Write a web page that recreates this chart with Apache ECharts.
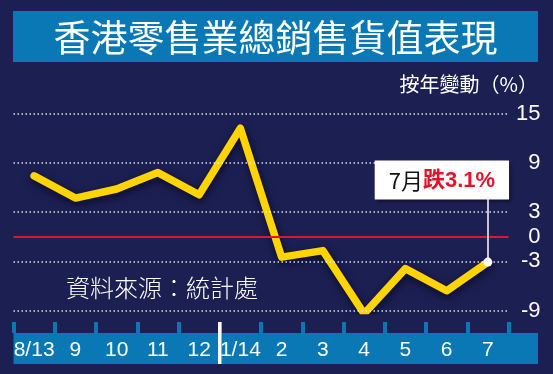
<!DOCTYPE html>
<html>
<head>
<meta charset="utf-8">
<script src="https://cdn.jsdelivr.net/npm/echarts@6/dist/echarts.min.js"></script>
<style>
html,body{margin:0;padding:0;background:#1c1f52;}
#chart{width:553px;height:374px;}
</style>
</head>
<body>
<div id="chart"></div>
<script>
// ---- data ----
const categories = ['8/13', '9', '10', '11', '12', '1/14', '2', '3', '4', '5', '6', '7'];
const retailYoY = [7.4, 4.7, 5.8, 7.8, 5.1, 13.2, -2.5, -1.7, -9.4, -3.9, -6.6, -3.1];
const yTickLabels = [15, 9, 3, 0, -3, -9];
const gridLineValues = [15, 9, 3, -3, -9];
const zeroLineValue = 0;
const titleText = '香港零售業總銷售貨值表現';
const unitText = '按年變動（%）';
const sourceText = '資料來源：統計處';
const noteMonth = '7月';
const noteChange = '跌3.1%';
const noteTopValue = 4.6;   // where the annotation connector ends (box bottom)
const yearBreakAfter = 4;   // separator between '12' and '1/14'

// ---- colours / fonts ----
const BG = '#1c1f52';
const BLUE = '#0a78b4';
const YELLOW = '#ffd400';
const RED = '#e3132b';
const NARROW = '"Liberation Sans Narrow","Liberation Sans",sans-serif';
const CJK = '"Noto Sans CJK TC","Noto Sans CJK SC",sans-serif';

const chart = echarts.init(document.getElementById('chart'), null, {renderer: 'canvas'});
const lastIdx = retailYoY.length - 1;

const lineData = retailYoY.map((v, i) => {
  if (i !== lastIdx) return v;
  return {
    value: v,
    symbol: 'circle',
    symbolSize: 9,
    itemStyle: {color: '#ffffff', borderWidth: 0},
    label: {
      show: true,
      position: 'top',
      distance: 58,
      offset: [-46, 0],
      backgroundColor: '#ffffff',
      padding: [7, 14, 6, 14],
      shadowColor: 'rgba(0,0,0,0.5)',
      shadowBlur: 3,
      shadowOffsetX: 2,
      shadowOffsetY: 2,
      formatter: () => '{m|' + noteMonth + '}{c|' + noteChange + '}',
      rich: {
        m: {fontFamily: CJK, fontSize: 22, color: '#111111', lineHeight: 26},
        c: {fontFamily: '"Liberation Sans",' + CJK, fontSize: 22, fontWeight: 'bold', color: RED, lineHeight: 26}
      }
    }
  };
});

const option = {
  backgroundColor: BG,
  animation: false,
  textStyle: {fontFamily: '"Liberation Sans",' + CJK},
  grid: {left: 13.5, right: 44.5, top: 113.5, bottom: 63.5},
  xAxis: {
    type: 'category',
    data: categories,
    boundaryGap: true,
    position: 'bottom',
    offset: 22.5,
    axisLine: {show: false, onZero: false},
    axisTick: {show: true, inside: true, length: 11, lineStyle: {color: BLUE, width: 4}},
    axisLabel: {color: '#ffffff', fontSize: 21, fontFamily: NARROW, margin: 7, interval: 0}
  },
  yAxis: {
    type: 'value',
    position: 'right',
    min: -9,
    max: 15,
    interval: 3,
    splitLine: {show: false},
    axisLine: {show: false},
    axisTick: {show: false},
    axisLabel: {
      color: '#ffffff',
      fontSize: 22,
      fontFamily: '"Liberation Sans",sans-serif',
      align: 'right',
      margin: 32,
      formatter: v => (yTickLabels.indexOf(v) >= 0 ? String(v) : '')
    }
  },
  graphic: [
    {
      type: 'rect', id: 'titleBox', z: 1,
      shape: {x: 13, y: 11, width: 525, height: 51},
      style: {fill: BLUE}
    },
    {
      type: 'text', id: 'titleText', z: 2,
      x: 275.5, y: 38,
      style: {text: titleText, fill: '#ffffff', font: '37px ' + CJK, align: 'center', verticalAlign: 'middle'}
    },
    {
      type: 'text', id: 'unitText', z: 2,
      x: 538, y: 84,
      style: {text: unitText, fill: '#ffffff', font: '20px ' + CJK, align: 'right', verticalAlign: 'middle'}
    },
    {
      type: 'text', id: 'sourceText', z: 2,
      x: 66, y: 288,
      style: {text: sourceText, fill: '#ffffff', font: '300 24px ' + CJK, align: 'left', verticalAlign: 'middle'}
    },
    {
      type: 'rect', id: 'band', z: -10,
      shape: {x: 13.5, y: 333, width: 524.5, height: 31},
      style: {fill: BLUE}
    }
  ],
  series: [
    {
      name: 'gridlines',
      type: 'line',
      data: [],
      z: 1,
      silent: true,
      markLine: {
        silent: true,
        symbol: 'none',
        label: {show: false},
        data: gridLineValues.map(v => ({yAxis: v, lineStyle: {color: 'rgba(255,255,255,0.85)', width: 1.5, type: [1.5, 2.5]}}))
          .concat([{yAxis: zeroLineValue, lineStyle: {color: RED, width: 2, type: 'solid'}}])
      }
    },
    {
      name: '按年變動',
      type: 'line',
      data: lineData,
      z: 3,
      showSymbol: true,
      symbol: 'none',
      lineStyle: {
        color: YELLOW, width: 7.5, cap: 'round', join: 'round',
        shadowColor: 'rgba(5,5,30,0.75)', shadowBlur: 8, shadowOffsetX: 1, shadowOffsetY: 3
      },
      markLine: {
        silent: true,
        symbol: 'none',
        label: {show: false},
        lineStyle: {color: '#ffffff', width: 1.5, type: 'solid'},
        data: [[{coord: [lastIdx, retailYoY[lastIdx]]}, {coord: [lastIdx, noteTopValue]}]]
      }
    }
  ]
};

chart.setOption(option);

// white year separator placed on the category boundary between Dec and Jan
const xa = chart.convertToPixel({xAxisIndex: 0}, yearBreakAfter);
const xb = chart.convertToPixel({xAxisIndex: 0}, yearBreakAfter + 1);
const sepX = (xa + xb) / 2;
chart.setOption({
  graphic: [{
    type: 'rect', id: 'yearSep', z: 5,
    shape: {x: sepX - 1.75, y: 322, width: 3.5, height: 42},
    style: {fill: '#ffffff'}
  }]
});
</script>
</body>
</html>
